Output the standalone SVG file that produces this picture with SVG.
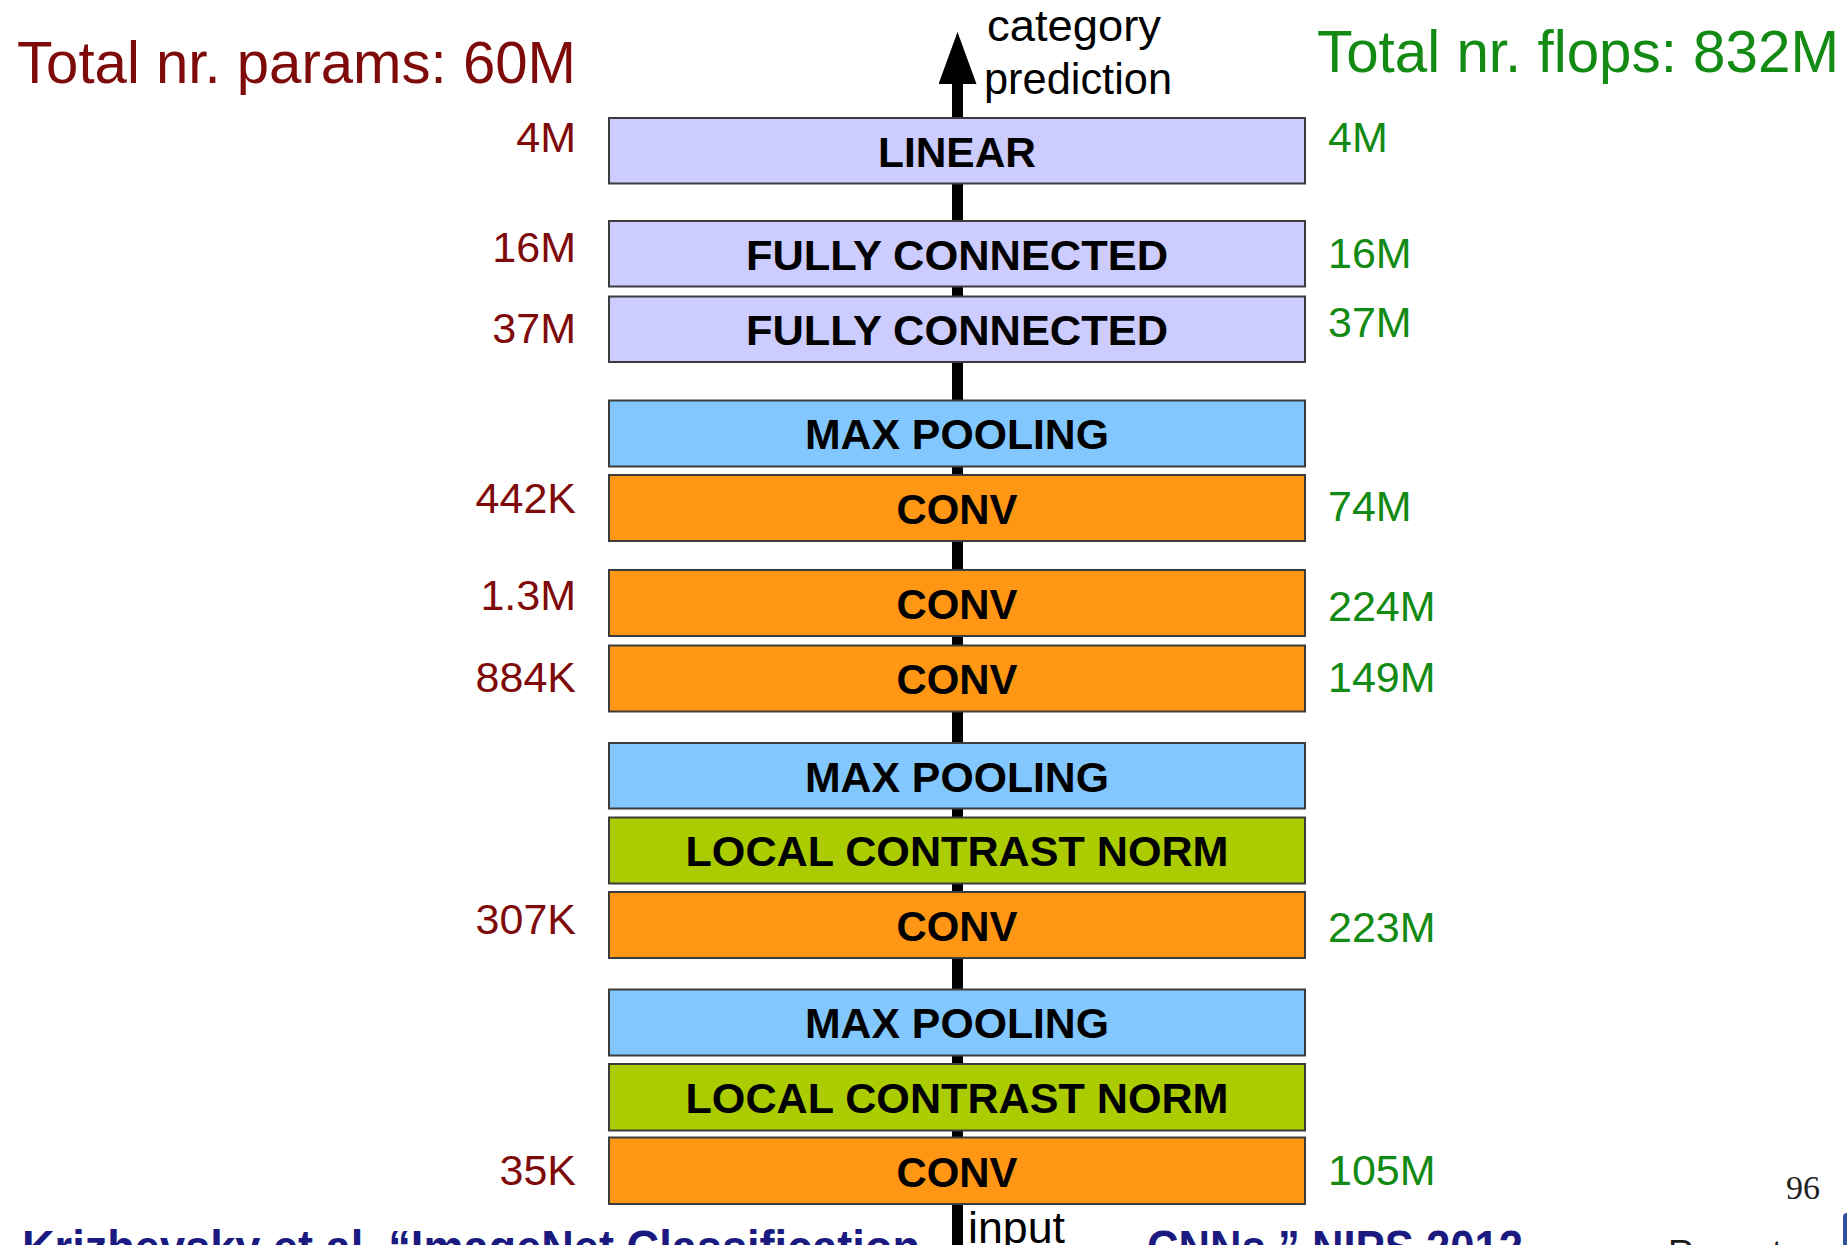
<svg xmlns="http://www.w3.org/2000/svg" width="1847" height="1245" viewBox="0 0 1847 1245">
  <style>
    .box { stroke: #3c3c3c; stroke-width: 2; }
    .fc { fill: #ccccff; }
    .pool { fill: #82c8ff; }
    .conv { fill: #ff9614; }
    .lcn { fill: #aacc00; }
    .lbl { font-family: "Liberation Sans", Arial, sans-serif; font-weight: bold; font-size: 43px; fill: #000; text-anchor: middle; }
    .par { font-family: "Liberation Sans", Arial, sans-serif; font-size: 43px; fill: #7f0a0a; text-anchor: end; }
    .flp { font-family: "Liberation Sans", Arial, sans-serif; font-size: 43px; fill: #138a13; text-anchor: start; }
    .title { font-family: "Liberation Sans", Arial, sans-serif; font-size: 59px; }
    .io { font-family: "Liberation Sans", Arial, sans-serif; font-size: 44px; fill: #000; }
    .cite { font-family: "Liberation Sans", Arial, sans-serif; font-weight: bold; font-size: 48px; fill: #1a1a80; }
  </style>
  <defs>
    <!-- upward-pointing head; fixed orientation, base sits on the end of the shaft -->
    <marker id="head" markerUnits="userSpaceOnUse" markerWidth="40" markerHeight="54" refX="19" refY="52" orient="0" viewBox="0 0 40 54">
      <polygon points="0,52 38,52 19,0" fill="#000"/>
    </marker>
  </defs>
  <rect width="1847" height="1245" fill="#fff"/>

  <!-- data flow: input at the bottom, prediction at the top -->
  <g id="connectors">
    <line x1="957.5" y1="1250" x2="957.5" y2="84" stroke="#000" stroke-width="11" marker-end="url(#head)"/>
  </g>

  <!-- totals -->
  <text id="total-params" class="title" x="17" y="83" fill="#7f0a0a" textLength="559" lengthAdjust="spacingAndGlyphs">Total nr. params: 60M</text>
  <text id="total-flops" class="title" x="1317" y="72" fill="#138a13" textLength="522" lengthAdjust="spacingAndGlyphs">Total nr. flops: 832M</text>

  <!-- end labels of the flow -->
  <text id="out-label" class="io" x="987" y="41"><tspan x="987" y="41" textLength="174" lengthAdjust="spacingAndGlyphs">category</tspan><tspan x="984" y="94" textLength="188" lengthAdjust="spacingAndGlyphs">prediction</tspan></text>
  <text id="in-label" class="io" x="968" y="1243" textLength="97" lengthAdjust="spacingAndGlyphs">input</text>

  <!-- layers, top to bottom -->
  <g id="linear">
    <rect class="box fc" x="609" y="118" width="696" height="65.5"/>
    <text class="lbl" x="957" y="166.5" textLength="158" lengthAdjust="spacingAndGlyphs">LINEAR</text>
    <text class="par" x="576" y="152">4M</text>
    <text class="flp" x="1328" y="152">4M</text>
  </g>
  <g id="fc2">
    <rect class="box fc" x="609" y="221" width="696" height="65.5"/>
    <text class="lbl" x="957" y="269.5" textLength="422" lengthAdjust="spacingAndGlyphs">FULLY CONNECTED</text>
    <text class="par" x="576" y="262">16M</text>
    <text class="flp" x="1328" y="268">16M</text>
  </g>
  <g id="fc1">
    <rect class="box fc" x="609" y="296.5" width="696" height="65.5"/>
    <text class="lbl" x="957" y="345" textLength="422" lengthAdjust="spacingAndGlyphs">FULLY CONNECTED</text>
    <text class="par" x="576" y="343">37M</text>
    <text class="flp" x="1328" y="337">37M</text>
  </g>
  <g id="pool3">
    <rect class="box pool" x="609" y="400.5" width="696" height="66"/>
    <text class="lbl" x="957" y="449.2" textLength="304" lengthAdjust="spacingAndGlyphs">MAX POOLING</text>
  </g>
  <g id="conv5">
    <rect class="box conv" x="609" y="475" width="696" height="66"/>
    <text class="lbl" x="957" y="523.7" textLength="121" lengthAdjust="spacingAndGlyphs">CONV</text>
    <text class="par" x="576" y="513">442K</text>
    <text class="flp" x="1328" y="521">74M</text>
  </g>
  <g id="conv4">
    <rect class="box conv" x="609" y="570" width="696" height="66"/>
    <text class="lbl" x="957" y="618.7" textLength="121" lengthAdjust="spacingAndGlyphs">CONV</text>
    <text class="par" x="576" y="610">1.3M</text>
    <text class="flp" x="1328" y="621">224M</text>
  </g>
  <g id="conv3">
    <rect class="box conv" x="609" y="645.5" width="696" height="66"/>
    <text class="lbl" x="957" y="694.2" textLength="121" lengthAdjust="spacingAndGlyphs">CONV</text>
    <text class="par" x="576" y="691.7">884K</text>
    <text class="flp" x="1328" y="692">149M</text>
  </g>
  <g id="pool2">
    <rect class="box pool" x="609" y="743" width="696" height="65.5"/>
    <text class="lbl" x="957" y="791.5" textLength="304" lengthAdjust="spacingAndGlyphs">MAX POOLING</text>
  </g>
  <g id="norm2">
    <rect class="box lcn" x="609" y="817.5" width="696" height="66"/>
    <text class="lbl" x="957" y="866.2" textLength="543" lengthAdjust="spacingAndGlyphs">LOCAL CONTRAST NORM</text>
  </g>
  <g id="conv2">
    <rect class="box conv" x="609" y="892" width="696" height="66"/>
    <text class="lbl" x="957" y="940.7" textLength="121" lengthAdjust="spacingAndGlyphs">CONV</text>
    <text class="par" x="576" y="934">307K</text>
    <text class="flp" x="1328" y="942">223M</text>
  </g>
  <g id="pool1">
    <rect class="box pool" x="609" y="989.5" width="696" height="66"/>
    <text class="lbl" x="957" y="1038.2" textLength="304" lengthAdjust="spacingAndGlyphs">MAX POOLING</text>
  </g>
  <g id="norm1">
    <rect class="box lcn" x="609" y="1064" width="696" height="66.5"/>
    <text class="lbl" x="957" y="1113" textLength="543" lengthAdjust="spacingAndGlyphs">LOCAL CONTRAST NORM</text>
  </g>
  <g id="conv1">
    <rect class="box conv" x="609" y="1137.5" width="696" height="66.5"/>
    <text class="lbl" x="957" y="1186.5" textLength="121" lengthAdjust="spacingAndGlyphs">CONV</text>
    <text class="par" x="576" y="1185">35K</text>
    <text class="flp" x="1328" y="1185">105M</text>
  </g>

  <!-- slide footer, running off the bottom edge -->
  <g id="footer">
    <text class="cite" x="22" y="1264" textLength="898" lengthAdjust="spacingAndGlyphs">Krizhevsky et al. “ImageNet Classification</text>
    <text class="cite" x="1147" y="1264" textLength="376" lengthAdjust="spacingAndGlyphs">CNNs,” NIPS 2012</text>
    <text x="1668" y="1266" font-family="Liberation Sans, Arial, sans-serif" font-size="36" fill="#1a1a1a">Ranzato</text>
    <text x="1786" y="1199" font-family="Liberation Serif, Times New Roman, serif" font-size="34" fill="#222">96</text>
    <rect x="1843" y="1213" width="12" height="40" rx="4" fill="#2f4f9f"/>
  </g>
</svg>
